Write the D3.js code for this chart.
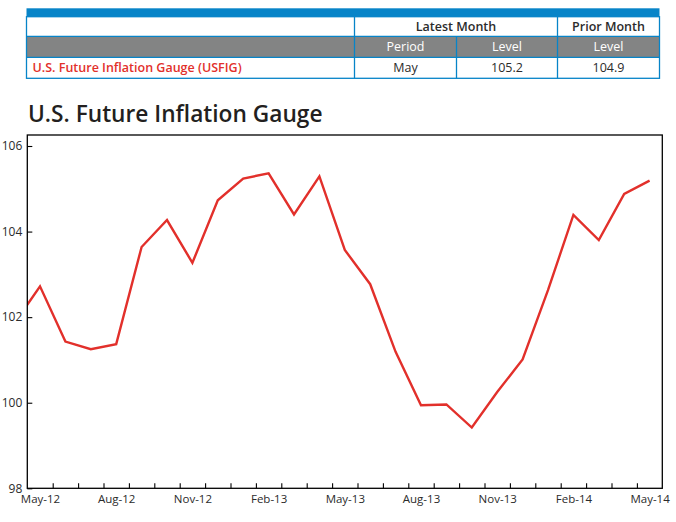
<!DOCTYPE html>
<html>
<head>
<meta charset="utf-8">
<script src="https://cdn.jsdelivr.net/npm/d3@7"></script>
<style>
  html, body { margin: 0; padding: 0; background: #fff; }
  svg { display: block; }
  text { font-family: "Open Sans", "Noto Sans", sans-serif; }
</style>
</head>
<body>
<svg id="chart" width="676" height="522"></svg>
<script>
// ---- data ----
const months = ["Apr-12","May-12","Jun-12","Jul-12","Aug-12","Sep-12","Oct-12","Nov-12","Dec-12",
  "Jan-13","Feb-13","Mar-13","Apr-13","May-13","Jun-13","Jul-13","Aug-13","Sep-13","Oct-13","Nov-13","Dec-13",
  "Jan-14","Feb-14","Mar-14","Apr-14","May-14"];
const usfig = [101.86,102.72,101.43,101.25,101.37,103.64,104.27,103.27,104.73,
  105.24,105.36,104.40,105.29,103.57,102.77,101.19,99.94,99.96,99.42,100.25,101.01,
  102.63,104.39,103.80,104.88,105.19];
const xTickLabels = ["May-12","Aug-12","Nov-12","Feb-13","May-13","Aug-13","Nov-13","Feb-14","May-14"];
const yTickValues = [98,100,102,104,106];
const chartTitle = "U.S. Future Inflation Gauge";

const tableHeader1 = ["", "Latest Month", "Prior Month"];
const tableHeader2 = ["", "Period", "Level", "Level"];
const tableRow = ["U.S. Future Inflation Gauge (USFIG)", "May", "105.2", "104.9"];

// ---- layout ----
const svg = d3.select("#chart");
const BLUE = "#0784c8", GRAY = "#838484", RED = "#e2302b", DARK = "#2b2b2b";

// ---- table ----
const tX = d3.scaleOrdinal().domain([0,1,2,3,4]).range([26.5, 354.5, 456.5, 557.5, 659.5]);
const tRows = { barTop: 8.3, h1: 16.7, h2: 36.3, r: 57.3, bottom: 78.3 };
const tg = svg.append("g");
tg.append("rect").attr("x", tX(0)).attr("y", tRows.barTop).attr("width", tX(4)-tX(0)).attr("height", tRows.h1 - tRows.barTop).attr("fill", BLUE);
tg.append("rect").attr("x", tX(0)).attr("y", tRows.h2).attr("width", tX(4)-tX(0)).attr("height", tRows.r - tRows.h2).attr("fill", GRAY);
// borders
tg.append("rect").attr("x", tX(0)).attr("y", tRows.h1).attr("width", tX(4)-tX(0)).attr("height", tRows.bottom - tRows.h1)
  .attr("fill", "none").attr("stroke", BLUE).attr("stroke-width", 1.3);
[tRows.h2, tRows.r].forEach(y => tg.append("line").attr("x1", tX(0)).attr("x2", tX(4)).attr("y1", y).attr("y2", y).attr("stroke", BLUE).attr("stroke-width", 1.3));
tg.append("line").attr("x1", tX(1)).attr("x2", tX(1)).attr("y1", tRows.h1).attr("y2", tRows.bottom).attr("stroke", BLUE).attr("stroke-width", 1.3);
tg.append("line").attr("x1", tX(3)).attr("x2", tX(3)).attr("y1", tRows.h1).attr("y2", tRows.bottom).attr("stroke", BLUE).attr("stroke-width", 1.3);
tg.append("line").attr("x1", tX(2)).attr("x2", tX(2)).attr("y1", tRows.h2).attr("y2", tRows.bottom).attr("stroke", BLUE).attr("stroke-width", 1.3);
// header 1
tg.append("text").attr("x", (tX(1)+tX(3))/2).attr("y", (tRows.h1+tRows.h2)/2).attr("dy", "0.36em")
  .attr("text-anchor", "middle").attr("font-size", 12.5).attr("font-weight", 600).attr("fill", DARK).text(tableHeader1[1]);
tg.append("text").attr("x", (tX(3)+tX(4))/2).attr("y", (tRows.h1+tRows.h2)/2).attr("dy", "0.36em")
  .attr("text-anchor", "middle").attr("font-size", 12.5).attr("font-weight", 600).attr("fill", DARK).text(tableHeader1[2]);
// header 2
[1,2,3].forEach(i => tg.append("text").attr("x", (tX(i)+tX(i+1))/2).attr("y", (tRows.h2+tRows.r)/2).attr("dy", "0.36em")
  .attr("text-anchor", "middle").attr("font-size", 12.5).attr("fill", "#fff").text(tableHeader2[i]));
// data row
tg.append("text").attr("x", 32.5).attr("y", (tRows.r+tRows.bottom)/2).attr("dy", "0.36em")
  .attr("font-size", 12.5).attr("font-weight", 600).attr("fill", RED).text(tableRow[0]);
[1,2,3].forEach(i => tg.append("text").attr("x", (tX(i)+tX(i+1))/2).attr("y", (tRows.r+tRows.bottom)/2).attr("dy", "0.36em")
  .attr("text-anchor", "middle").attr("font-size", 12.5).attr("fill", DARK).text(tableRow[i]));

// ---- title ----
svg.append("text").attr("x", 28).attr("y", 121.7).attr("font-size", 22.7).attr("font-weight", 600)
  .attr("fill", "#231f20").text(chartTitle);

// ---- chart ----
const plot = { left: 27.3, right: 662.3, top: 135, bottom: 488.3 };
const x = d3.scaleLinear().domain([0.5, months.length - 0.5]).range([plot.left, plot.right]);
const y = d3.scaleLinear().domain([98, 106]).range([plot.bottom, 146]);
const yTop = plot.top;

svg.append("defs").append("clipPath").attr("id", "clip")
  .append("rect").attr("x", plot.left).attr("y", yTop).attr("width", plot.right - plot.left).attr("height", plot.bottom - yTop);

const line = d3.line().x((d, i) => x(i)).y(d => y(d));
svg.append("path").datum(usfig).attr("clip-path", "url(#clip)")
  .attr("d", line).attr("fill", "none").attr("stroke", RED).attr("stroke-width", 2.4).attr("stroke-linejoin", "miter");

// frame
svg.append("rect").attr("x", plot.left).attr("y", yTop).attr("width", plot.right - plot.left).attr("height", plot.bottom - yTop)
  .attr("fill", "none").attr("stroke", "#000").attr("stroke-width", 1.3);

// x ticks at month boundaries (inward)
const boundaries = d3.range(1.5, months.length - 0.5, 1);
const xTicks = svg.append("g").attr("transform", `translate(0,${plot.bottom})`)
  .call(d3.axisBottom(x).tickValues(boundaries).tickSize(-5).tickFormat(""));
xTicks.select(".domain").remove();
xTicks.selectAll("line").attr("stroke", "#000").attr("stroke-width", 1.1);

// x labels
const labelIdx = xTickLabels.map(l => months.indexOf(l));
const xLab = svg.append("g").attr("transform", `translate(0,${plot.bottom})`)
  .call(d3.axisBottom(x).tickValues(labelIdx).tickSize(0).tickPadding(7).tickFormat(i => months[i]));
xLab.select(".domain").remove();
xLab.selectAll("text").attr("font-size", 11.5).attr("fill", DARK).style("font-family", '"Open Sans", sans-serif');

// y axis
const yAx = svg.append("g").attr("transform", `translate(${plot.left},0)`)
  .call(d3.axisLeft(y).tickValues(yTickValues).tickSize(-5).tickPadding(5).tickFormat(d3.format("d")));
yAx.select(".domain").remove();
yAx.selectAll("line").attr("stroke", "#000").attr("stroke-width", 1.1);
yAx.selectAll("text").attr("font-size", 12).attr("fill", DARK).style("font-family", '"Open Sans", sans-serif');
</script>
</body>
</html>
